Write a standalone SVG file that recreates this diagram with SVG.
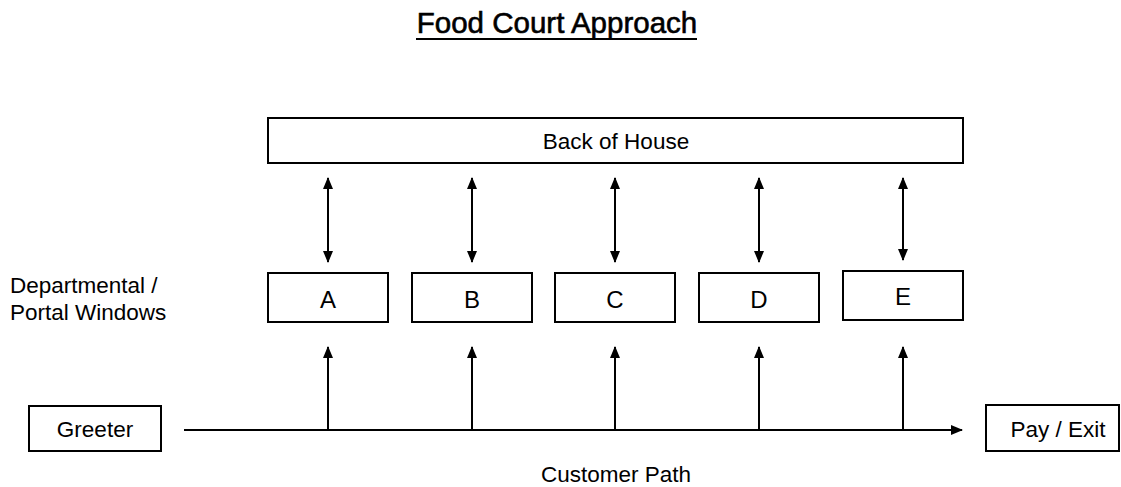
<svg xmlns="http://www.w3.org/2000/svg" width="1121" height="487" viewBox="0 0 1121 487">
<style>
  .box { fill: #ffffff; stroke: #000000; stroke-width: 2; }
  .lbl { font-family: "Liberation Sans", Arial, sans-serif; font-size: 22.5px; fill: #000000; }
  .mid { text-anchor: middle; }
  .big { font-size: 24px; }
  .title { font-family: "Liberation Sans", Arial, sans-serif; font-size: 29.5px; fill: #000000; stroke: #000000; stroke-width: 0.6; text-anchor: middle; }
  .conn { stroke: #000000; stroke-width: 2; fill: none; }
</style>
<defs>
  <marker id="ah" viewBox="0 0 12 10" refX="11" refY="5" markerWidth="12" markerHeight="10" markerUnits="userSpaceOnUse" orient="auto-start-reverse">
    <path d="M0,0 L12,5 L0,10 Z" fill="#000000"/>
  </marker>
</defs>
<rect width="1121" height="487" fill="#ffffff"/>

<g id="title">
  <text class="title" x="557" y="33">Food Court Approach</text>
  <line x1="416" y1="39" x2="697" y2="39" stroke="#000000" stroke-width="2"/>
</g>

<g id="back-of-house">
  <rect class="box" x="268" y="118" width="695" height="45"/>
  <text class="lbl mid" x="616" y="149">Back of House</text>
</g>

<g id="window-label">
  <text class="lbl" x="10" y="293">Departmental /</text>
  <text class="lbl" x="10" y="320">Portal Windows</text>
</g>

<g id="window-a">
  <rect class="box" x="268" y="273" width="120" height="49"/>
  <text class="lbl mid big" x="328" y="308">A</text>
</g>
<g id="window-b">
  <rect class="box" x="412" y="273" width="120" height="49"/>
  <text class="lbl mid big" x="472" y="308">B</text>
</g>
<g id="window-c">
  <rect class="box" x="555" y="273" width="120" height="49"/>
  <text class="lbl mid big" x="615" y="308">C</text>
</g>
<g id="window-d">
  <rect class="box" x="699" y="273" width="120" height="49"/>
  <text class="lbl mid big" x="759" y="308">D</text>
</g>
<g id="window-e">
  <rect class="box" x="843" y="271" width="120" height="49"/>
  <text class="lbl mid big" x="903" y="305">E</text>
</g>

<g id="greeter">
  <rect class="box" x="29" y="406" width="132" height="45"/>
  <text class="lbl mid" x="95" y="437">Greeter</text>
</g>

<g id="pay-exit">
  <rect class="box" x="986" y="405" width="133" height="46"/>
  <text class="lbl mid" x="1058" y="437">Pay / Exit</text>
</g>

<g id="customer-path-label">
  <text class="lbl mid" x="616" y="482">Customer Path</text>
</g>

<g id="connectors">
  <line class="conn" x1="184" y1="430" x2="962" y2="430" marker-end="url(#ah)"/>
  <line class="conn" x1="328" y1="430" x2="328" y2="347" marker-end="url(#ah)"/>
  <line class="conn" x1="472" y1="430" x2="472" y2="347" marker-end="url(#ah)"/>
  <line class="conn" x1="615" y1="430" x2="615" y2="347" marker-end="url(#ah)"/>
  <line class="conn" x1="759" y1="430" x2="759" y2="347" marker-end="url(#ah)"/>
  <line class="conn" x1="903" y1="430" x2="903" y2="347" marker-end="url(#ah)"/>
  <line class="conn" x1="328" y1="178" x2="328" y2="262" marker-start="url(#ah)" marker-end="url(#ah)"/>
  <line class="conn" x1="472" y1="178" x2="472" y2="262" marker-start="url(#ah)" marker-end="url(#ah)"/>
  <line class="conn" x1="615" y1="178" x2="615" y2="262" marker-start="url(#ah)" marker-end="url(#ah)"/>
  <line class="conn" x1="759" y1="178" x2="759" y2="262" marker-start="url(#ah)" marker-end="url(#ah)"/>
  <line class="conn" x1="903" y1="178" x2="903" y2="260" marker-start="url(#ah)" marker-end="url(#ah)"/>
</g>
</svg>
